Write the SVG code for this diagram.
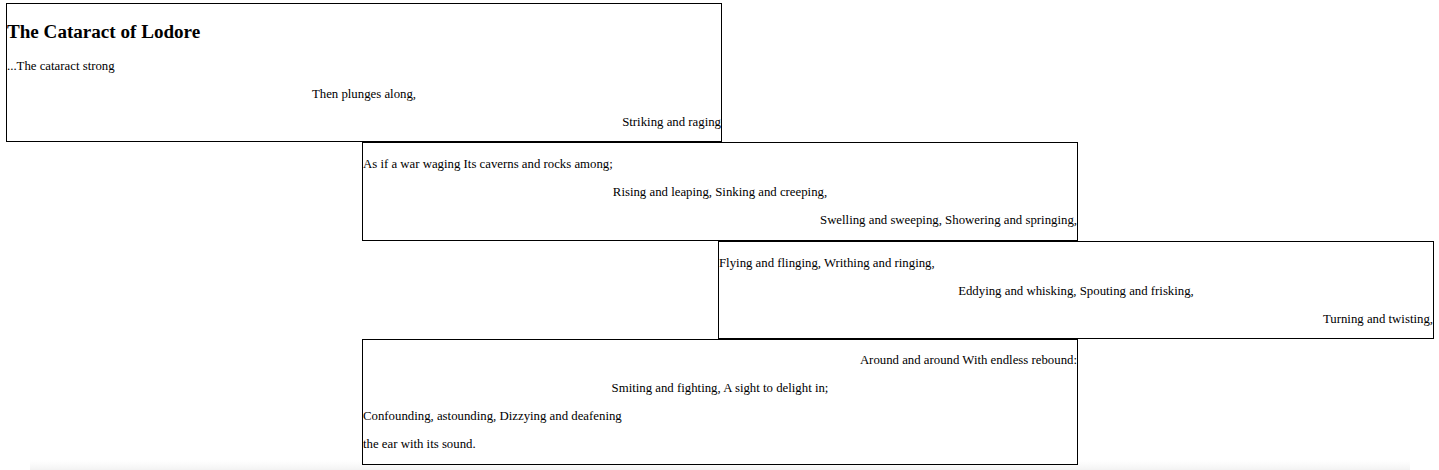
<svg xmlns="http://www.w3.org/2000/svg" width="1439" height="470" viewBox="0 0 1439 470">
<defs>
<style>
.box{fill:#fff;stroke:#000;stroke-width:1}
.t{font-family:"Liberation Serif","Times New Roman",serif;font-size:12.8px;fill:#000}
.h{font-family:"Liberation Serif","Times New Roman",serif;font-size:19.1px;font-weight:bold;fill:#000}
.c{text-anchor:middle}
.r{text-anchor:end}
</style>
<linearGradient id="shade" x1="0" y1="0" x2="0" y2="1">
<stop offset="0" stop-color="#f4f4f4" stop-opacity="0"/>
<stop offset="1" stop-color="#ededed" stop-opacity="0.7"/>
</linearGradient>
</defs>
<rect x="0" y="0" width="1439" height="470" fill="#fff"/>
<rect x="30" y="460" width="1380" height="10" fill="url(#shade)"/>
<g id="connectors"></g>
<g id="node1">
<rect class="box" x="6.5" y="3.5" width="715" height="138"/>
<text class="h" x="7" y="38">The Cataract of Lodore</text>
<text class="t" x="7" y="70">...The cataract strong</text>
<text class="t c" x="364" y="98">Then plunges along,</text>
<text class="t r" x="721" y="126">Striking and raging</text>
</g>
<g id="node2">
<rect class="box" x="362.5" y="142.5" width="715" height="98"/>
<text class="t" x="363" y="168">As if a war waging Its caverns and rocks among;</text>
<text class="t c" x="720" y="196">Rising and leaping, Sinking and creeping,</text>
<text class="t r" x="1077" y="224">Swelling and sweeping, Showering and springing,</text>
</g>
<g id="node3">
<rect class="box" x="718.5" y="241.5" width="715" height="97"/>
<text class="t" x="719" y="267">Flying and flinging, Writhing and ringing,</text>
<text class="t c" x="1076" y="295">Eddying and whisking, Spouting and frisking,</text>
<text class="t r" x="1433" y="323">Turning and twisting,</text>
</g>
<g id="node4">
<rect class="box" x="362.5" y="339.5" width="715" height="125"/>
<text class="t r" x="1077" y="364">Around and around With endless rebound:</text>
<text class="t c" x="720" y="392">Smiting and fighting, A sight to delight in;</text>
<text class="t" x="363" y="420">Confounding, astounding, Dizzying and deafening</text>
<text class="t" x="363" y="448">the ear with its sound.</text>
</g>
</svg>
